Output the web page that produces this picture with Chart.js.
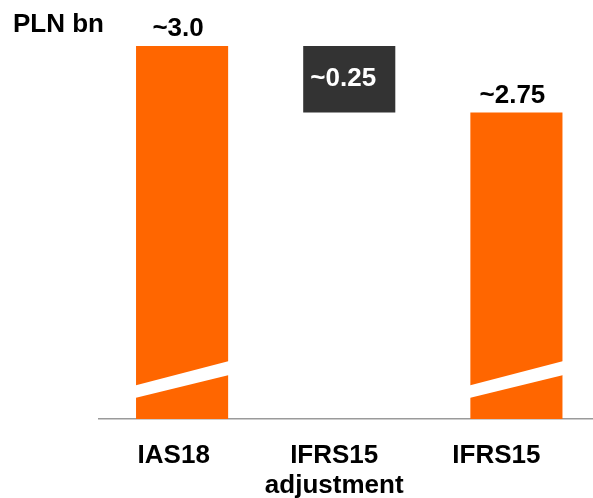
<!DOCTYPE html>
<html>
<head>
<meta charset="utf-8">
<style>
  html, body { margin: 0; padding: 0; background: #ffffff; overflow: hidden; }
  #wrap { width: 600px; height: 498px; position: relative; }
</style>
<script src="https://cdn.jsdelivr.net/npm/chart.js@4.4.1/dist/chart.umd.min.js"></script>
</head>
<body>
<div id="wrap"><canvas id="c" width="600" height="498"></canvas></div>
<script>
// Revenue bridge, PLN bn
const categories = ['IAS18', ['IFRS15', 'adjustment'], 'IFRS15'];
const ias18Value = 3.0;
const adjustmentValue = 0.25;
const ifrs15Value = 2.75;
const valueLabels = ['~3.0', '~0.25', '~2.75'];
const unitLabel = 'PLN bn';

// axis break marker (value range of the white slanted band on the bars)
const breakBand = { leftTop: 1.726, leftBottom: 1.679, rightTop: 1.818, rightBottom: 1.765 };

const ORANGE = '#FF6600';
const DARK = '#333333';
const FONT = '"Liberation Sans", Arial, Helvetica, sans-serif';
const FONT_SIZE = 26;

// category labels sit slightly left of their bars (in category units)
const labelShift = [-0.05, -0.09, -0.12];

const barData = [ias18Value, [ifrs15Value, ifrs15Value + adjustmentValue], ifrs15Value];
const barColors = [ORANGE, DARK, ORANGE];

const overlay = {
  id: 'overlay',
  afterDatasetsDraw(chart) {
    const ctx = chart.ctx;
    const meta = chart.getDatasetMeta(0);
    const y = chart.scales.y;
    ctx.save();
    // white slanted band across the orange bars (broken axis)
    ctx.fillStyle = '#ffffff';
    meta.data.forEach((bar, i) => {
      if (barColors[i] !== ORANGE) return;
      const l = bar.x - bar.width / 2 - 1;
      const r = bar.x + bar.width / 2 + 1;
      ctx.beginPath();
      ctx.moveTo(l, y.getPixelForValue(breakBand.leftTop));
      ctx.lineTo(r, y.getPixelForValue(breakBand.rightTop));
      ctx.lineTo(r, y.getPixelForValue(breakBand.rightBottom));
      ctx.lineTo(l, y.getPixelForValue(breakBand.leftBottom));
      ctx.closePath();
      ctx.fill();
    });
    // value labels
    ctx.font = 'bold ' + FONT_SIZE + 'px ' + FONT;
    ctx.textAlign = 'center';
    meta.data.forEach((bar, i) => {
      if (barColors[i] === DARK) {
        ctx.fillStyle = '#ffffff';
        ctx.textBaseline = 'middle';
        ctx.fillText(valueLabels[i], bar.x - 6, (bar.y + bar.base) / 2);
      } else {
        ctx.fillStyle = '#000000';
        ctx.textBaseline = 'alphabetic';
        ctx.fillText(valueLabels[i], bar.x - 4, bar.y - 10);
      }
    });
    // unit label
    ctx.fillStyle = '#000000';
    ctx.textAlign = 'left';
    ctx.textBaseline = 'alphabetic';
    ctx.fillText(unitLabel, 13, 32);
    ctx.restore();
  }
};

new Chart(document.getElementById('c'), {
  type: 'bar',
  data: {
    labels: categories,
    datasets: [{
      data: barData,
      backgroundColor: barColors,
      borderWidth: 0,
      categoryPercentage: 1,
      barPercentage: 0.551
    }]
  },
  options: {
    responsive: false,
    animation: false,
    devicePixelRatio: 1,
    layout: { padding: { top: 46, left: 98.5, right: 0, bottom: 0 } },
    plugins: { legend: { display: false }, tooltip: { enabled: false } },
    scales: {
      x: {
        grid: { display: false, drawTicks: false },
        border: { display: true, color: '#9a9a9a', width: 1.5 },
        ticks: { display: false },
        afterFit(scale) { scale.height = 0; }
      },
      xLabels: {
        type: 'linear',
        position: 'bottom',
        offset: false,
        bounds: 'data',
        min: -0.5,
        max: 2.5,
        grid: { display: false, drawTicks: false, offset: false },
        border: { display: false },
        afterBuildTicks(scale) {
          scale.ticks = categories.map((c, i) => ({ value: i + labelShift[i] }));
        },
        ticks: {
          color: '#000000',
          font: { family: FONT, size: FONT_SIZE, weight: 'bold', lineHeight: 1.15 },
          padding: 22,
          maxRotation: 0,
          autoSkip: false,
          callback: (value, index) => categories[index]
        },
        afterFit(scale) { scale.height = 79; }
      },
      y: {
        display: false,
        min: 1.6,
        max: 3.0
      }
    }
  },
  plugins: [overlay]
});
</script>
</body>
</html>
